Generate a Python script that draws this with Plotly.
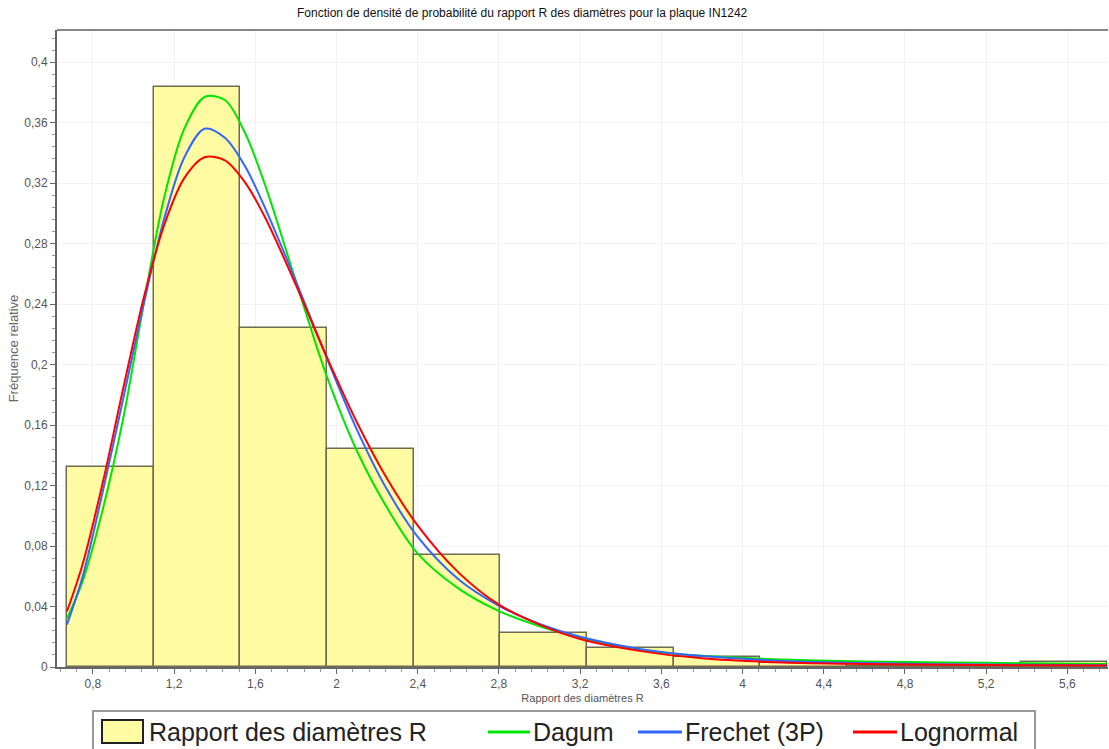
import plotly.graph_objects as go

# Histogram of the diameter ratio R (relative frequency per class)
bin_edges = [0.672, 1.099, 1.526, 1.953, 2.380, 2.807, 3.234, 3.661,
             4.088, 4.515, 4.942, 5.369, 5.796]
rel_freq = [0.1325, 0.3838, 0.2242, 0.1442, 0.0741, 0.0223, 0.0128,
            0.0066, 0.0028, 0.0008, 0.0005, 0.0035]

# Fitted density curves (scaled to class width), sampled along R
r_pts = [0.672, 0.75, 0.85, 0.95, 1.05, 1.15, 1.25, 1.35, 1.45, 1.55,
         1.65, 1.80, 1.95, 2.10, 2.25, 2.40, 2.60, 2.80, 3.00, 3.20,
         3.50, 3.80, 4.20, 4.60, 5.00, 5.40, 5.796]
dagum = [0.032, 0.057, 0.105, 0.165, 0.240, 0.310, 0.356, 0.377, 0.375, 0.353,
         0.318, 0.255, 0.193, 0.143, 0.105, 0.075, 0.052, 0.037, 0.027, 0.0195,
         0.0110, 0.0075, 0.0050, 0.0037, 0.0030, 0.0025, 0.0020]
frechet = [0.028, 0.060, 0.117, 0.178, 0.240, 0.296, 0.337, 0.356, 0.350, 0.331,
           0.303, 0.255, 0.205, 0.157, 0.117, 0.086, 0.058, 0.0405, 0.0285, 0.0200,
           0.0118, 0.0072, 0.0040, 0.0026, 0.0019, 0.0015, 0.0012]
lognormal = [0.0367, 0.0683, 0.1228, 0.1848, 0.2441, 0.2919, 0.3233, 0.3371, 0.3351, 0.3204,
             0.2968, 0.2525, 0.2056, 0.1619, 0.1243, 0.0935, 0.0626, 0.0412, 0.0280, 0.0185,
             0.0105, 0.0058, 0.0030, 0.0020, 0.0015, 0.0012, 0.0010]

x_title = "Rapport des diamètres R"
y_title = "Fréquence relative"
chart_title = "Fonction de densité de probabilité du rapport R des diamètres pour la plaque IN1242"
legend_labels = ["Rapport des diamètres R", "Dagum", "Frechet (3P)", "Lognormal"]

BAR_FILL = "#FFFBA2"
BAR_EDGE = "#6E6C4E"
COLORS = ["#00E600", "#3366FF", "#FF0000"]
FONT = "Liberation Sans, Arial, sans-serif"

centers = [(a + b) / 2 for a, b in zip(bin_edges[:-1], bin_edges[1:])]
widths = [b - a for a, b in zip(bin_edges[:-1], bin_edges[1:])]

fig = go.Figure()
fig.add_trace(go.Bar(
    x=centers, y=rel_freq, width=widths,
    marker=dict(color=BAR_FILL, line=dict(color=BAR_EDGE, width=1.5)),
    name=legend_labels[0], showlegend=False,
))
for vals, col, nm in zip([dagum, frechet, lognormal], COLORS, legend_labels[1:]):
    fig.add_trace(go.Scatter(
        x=r_pts, y=vals, mode="lines", name=nm, showlegend=False,
        line=dict(color=col, width=2, shape="spline", smoothing=0.9),
    ))

# Legend drawn in paper space below the axes
W, H = 1109, 749
L, R_, T, B = 57, 1, 30, 82
pw, ph = W - L - R_, H - T - B


def px(xp):
    return (xp - L) / pw


def py(yp):
    return (H - B - yp) / ph


shapes = [
    dict(type="rect", xref="paper", yref="paper", x0=px(93), x1=px(1035),
         y0=py(752), y1=py(711), line=dict(color="#9A9A9A", width=2),
         fillcolor="white"),
    dict(type="rect", xref="paper", yref="paper", x0=px(102), x1=px(143),
         y0=py(743), y1=py(720), line=dict(color="#222222", width=2),
         fillcolor=BAR_FILL),
]
line_spans = [(488, 530), (638, 682), (853, 897)]
for (a, b), col in zip(line_spans, COLORS):
    shapes.append(dict(type="line", xref="paper", yref="paper", x0=px(a), x1=px(b),
                       y0=py(732), y1=py(732), line=dict(color=col, width=3)))

text_starts = [147, 531, 683, 898]
annotations = [
    dict(text=t, xref="paper", yref="paper", x=px(xs), y=py(732), xanchor="left",
         yanchor="middle", showarrow=False, font=dict(family=FONT, size=25, color="#222"))
    for t, xs in zip(legend_labels, text_starts)
]
annotations.append(dict(text=chart_title, xref="paper", yref="paper", x=px(522), y=py(13),
                        xanchor="center", yanchor="middle", showarrow=False,
                        font=dict(family=FONT, size=12, color="#111")))

fig.update_layout(
    width=W, height=H,
    margin=dict(l=L, r=R_, t=T, b=B),
    paper_bgcolor="white", plot_bgcolor="white",
    separators=", ",
    bargap=0, barmode="overlay",
    showlegend=False,
    font=dict(family=FONT, size=12, color="#444"),
    shapes=shapes, annotations=annotations,
)
fig.update_xaxes(
    range=[0.623, 5.80], tick0=0, dtick=0.4,
    showline=True, linecolor="#666", linewidth=2, mirror=False,
    showgrid=True, gridcolor="#F2F2F2", gridwidth=1,
    ticks="outside", ticklen=5, tickcolor="#666",
    minor=dict(dtick=0.08, ticks="outside", ticklen=3, tickcolor="#999", showgrid=False),
    zeroline=False, tickfont=dict(size=12, color="#555"),
    title=dict(text=x_title, font=dict(size=11, color="#555"), standoff=4),
)
fig.update_yaxes(
    range=[0, 0.4213], tick0=0, dtick=0.04,
    showline=True, linecolor="#666", linewidth=2,
    showgrid=True, gridcolor="#F2F2F2", gridwidth=1,
    ticks="outside", ticklen=5, tickcolor="#666",
    minor=dict(dtick=0.008, ticks="outside", ticklen=3, tickcolor="#999", showgrid=False),
    zeroline=False, tickfont=dict(size=12, color="#555"),
    title=dict(text=y_title, font=dict(size=13, color="#666"), standoff=3),
)
# top border of the plotting area
fig.add_shape(type="line", xref="paper", yref="paper", x0=0, x1=1, y0=1, y1=1,
              line=dict(color="#888", width=2))

fig.write_html("out.html")
